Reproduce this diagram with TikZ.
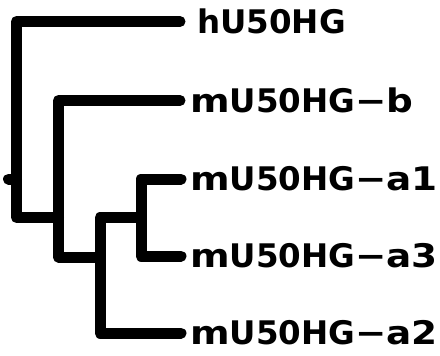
\documentclass[tikz,border=0pt]{standalone}
\usepackage{fontspec}
\newfontfamily\labfont{DejaVu Sans}[BoldFont={DejaVu Sans Bold}]
\newcommand{\widem}{\scalebox{1.17}[1]{m}}
\newcommand{\widesfx}[1]{\scalebox{1.15}[1]{#1}}
\tikzset{
  branch/.style={line width=11pt, line cap=round, line join=round, black},
  leaf/.style={anchor=base west, inner sep=0pt, font=\labfont\bfseries\fontsize{32.5}{36}\selectfont}
}
\begin{document}
\begin{tikzpicture}[x=1pt,y=-1pt]
\useasboundingbox (0,0) rectangle (440,356);
% internal tree nodes
\coordinate (root) at (8.5,179);
\coordinate (n1) at (16.5,179);
\coordinate (n2) at (58.5,217.5);
\coordinate (n3) at (100,257);
\coordinate (n4) at (141,217.5);
% leaf ends
\coordinate (eh) at (180,21.5);
\coordinate (eb) at (180,100.5);
\coordinate (ea1) at (181,179);
\coordinate (ea3) at (181,256);
\coordinate (ea2) at (181,333);
% labels
\node[leaf] (lh) at (197,33.3) {hU50HG};
\node[leaf] (lb) at (190,112.3) {\widem U50HG\widesfx{−b}};
\node[leaf] (la1) at (190,190.8) {\widem U50HG\widesfx{−a1}};
\node[leaf] (la3) at (190,267.8) {\widem U50HG\widesfx{−a3}};
\node[leaf] (la2) at (190,344.8) {\widem U50HG\widesfx{−a2}};
% branches
\draw[branch] (root) -- (n1);
\draw[branch] (n1) |- (eh);
\draw[branch] (n1) |- (n2);
\draw[branch] (n2) |- (eb);
\draw[branch] (n2) |- (n3);
\draw[branch] (n3) |- (n4);
\draw[branch] (n3) |- (ea2);
\draw[branch] (n4) |- (ea1);
\draw[branch] (n4) |- (ea3);
\end{tikzpicture}
\end{document}
